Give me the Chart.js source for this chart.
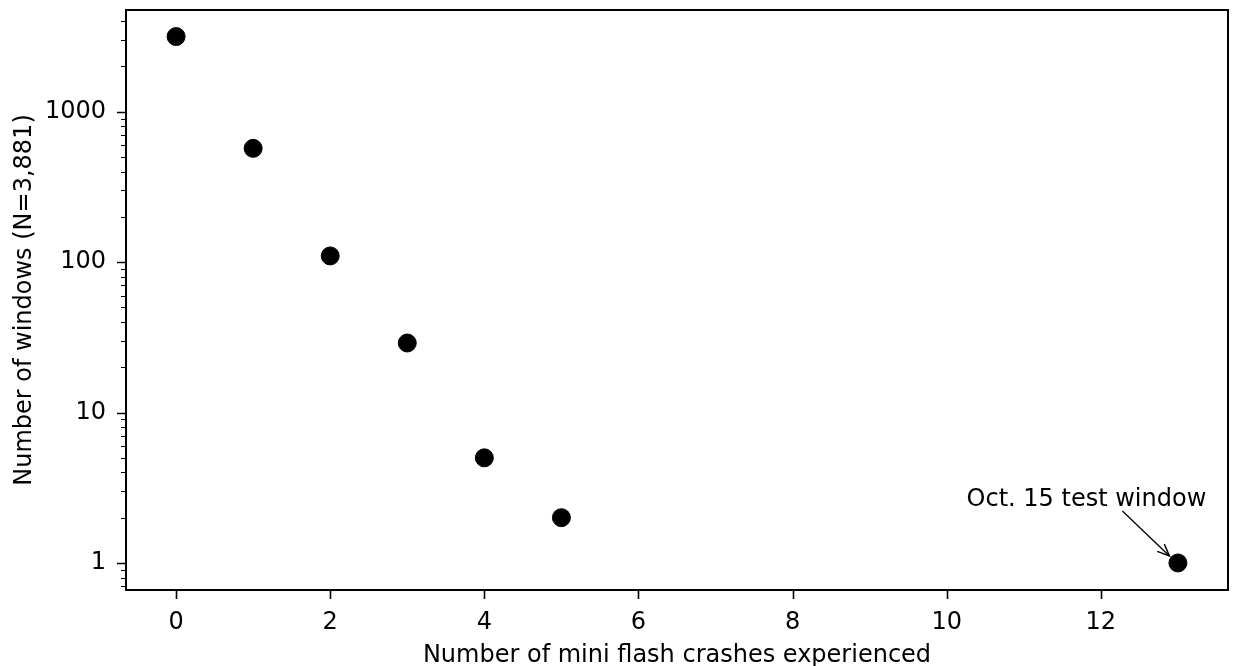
<!DOCTYPE html>
<html>
<head>
<meta charset="utf-8">
<script src="https://cdn.jsdelivr.net/npm/chart.js@4/dist/chart.umd.min.js"></script>
<style>
html,body{margin:0;padding:0;background:#fff;}
#wrap{width:1234px;height:666px;position:relative;}
canvas{display:block;}
</style>
</head>
<body>
<div id="wrap"><canvas id="c"></canvas></div>
<script>
const crashCounts = [0, 1, 2, 3, 4, 5, 13];
const windowCounts = [3163, 571, 110, 29, 5, 2, 1];
const xTickValues = [0, 2, 4, 6, 8, 10, 12];
const yTickValues = [1, 10, 100, 1000];
const annotationText = "Oct. 15 test window";
const annotationIndex = 6;

const FONT = "'DejaVu Sans', sans-serif";
const FS = 24;

const yMinor = [];
for (let e = -1; e <= 3; e++) {
  for (let m = 2; m <= 9; m++) yMinor.push(m * Math.pow(10, e));
}

const framePlugin = {
  id: 'frame',
  afterDraw(chart) {
    const ctx = chart.ctx, a = chart.chartArea;
    const xs = chart.scales.x, ys = chart.scales.y;
    ctx.save();
    ctx.strokeStyle = '#000';
    ctx.lineWidth = 1.6;
    ctx.beginPath();
    xTickValues.forEach(v => {
      const px = Math.round(xs.getPixelForValue(v)) + 0.5;
      ctx.moveTo(px, a.bottom); ctx.lineTo(px, a.bottom + 9);
    });
    yTickValues.forEach(v => {
      const py = Math.round(ys.getPixelForValue(v)) + 0.5;
      ctx.moveTo(a.left, py); ctx.lineTo(a.left - 9, py);
    });
    ctx.stroke();
    ctx.lineWidth = 1.2;
    ctx.beginPath();
    yMinor.forEach(v => {
      const py = ys.getPixelForValue(v);
      if (py < a.top || py > a.bottom) return;
      const p = Math.round(py) + 0.5;
      ctx.moveTo(a.left, p); ctx.lineTo(a.left - 5, p);
    });
    ctx.stroke();
    ctx.lineWidth = 2;
    ctx.strokeRect(a.left, a.top, a.right - a.left, a.bottom - a.top);
    // annotation
    const px = xs.getPixelForValue(crashCounts[annotationIndex]);
    const py = ys.getPixelForValue(windowCounts[annotationIndex]);
    ctx.fillStyle = '#000';
    ctx.font = FS + 'px ' + FONT;
    ctx.textAlign = 'center';
    ctx.textBaseline = 'alphabetic';
    ctx.fillText(annotationText, px - 91.5, py - 57);
    const sx = px - 55.5, sy = py - 52;
    const ex = px - 8.5, ey = py - 7;
    ctx.lineWidth = 1.3;
    ctx.beginPath(); ctx.moveTo(sx, sy); ctx.lineTo(ex, ey); ctx.stroke();
    const ang = Math.atan2(ey - sy, ex - sx);
    const hl = 13, hw = 0.4;
    ctx.lineWidth = 1.5;
    ctx.beginPath();
    ctx.moveTo(ex - hl * Math.cos(ang - hw), ey - hl * Math.sin(ang - hw));
    ctx.lineTo(ex, ey);
    ctx.lineTo(ex - hl * Math.cos(ang + hw), ey - hl * Math.sin(ang + hw));
    ctx.stroke();
    ctx.restore();
  }
};

new Chart(document.getElementById('c'), {
  type: 'scatter',
  data: {
    datasets: [{
      data: crashCounts.map((x, i) => ({x: x, y: windowCounts[i]})),
      backgroundColor: '#000',
      borderColor: '#000',
      pointRadius: 9,
      pointHoverRadius: 9
    }]
  },
  options: {
    responsive: true,
    maintainAspectRatio: false,
    animation: false,
    events: [],
    layout: {autoPadding: false, padding: {top: 10, right: 6, left: 0, bottom: 0}},
    plugins: {legend: {display: false}, tooltip: {enabled: false}},
    scales: {
      x: {
        type: 'linear',
        min: -0.65, max: 13.65,
        afterBuildTicks: s => { s.ticks = xTickValues.map(v => ({value: v})); },
        afterFit: s => { s.height = 76; s.paddingLeft = 0; s.paddingRight = 0; },
        grid: {display: false, drawTicks: false},
        border: {display: false},
        ticks: {color: '#000', padding: 18, font: {family: FONT, size: FS}, maxRotation: 0},
        title: {display: true, text: 'Number of mini flash crashes experienced', color: '#000',
                font: {family: FONT, size: FS}, padding: {top: 0, bottom: -4}}
      },
      y: {
        type: 'logarithmic',
        min: 0.661, max: 4747,
        afterBuildTicks: s => { s.ticks = yTickValues.map(v => ({value: v})); },
        afterFit: s => { s.width = 126; s.paddingTop = 0; s.paddingBottom = 0; },
        grid: {display: false, drawTicks: false},
        border: {display: false},
        ticks: {color: '#000', padding: 20, font: {family: FONT, size: FS},
                callback: v => String(v)},
        title: {display: true, text: 'Number of windows (N=3,881)', color: '#000',
                font: {family: FONT, size: FS}, padding: {top: 10, bottom: 0}}
      }
    }
  },
  plugins: [framePlugin]
});
</script>
</body>
</html>
